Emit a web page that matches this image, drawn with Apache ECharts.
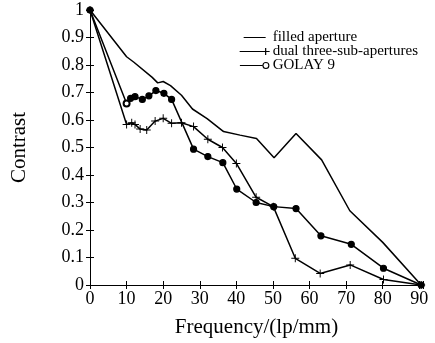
<!DOCTYPE html>
<html><head><meta charset="utf-8">
<script src="https://cdn.jsdelivr.net/npm/echarts@6/dist/echarts.min.js"></script>
<style>html,body{margin:0;padding:0;background:#fff}#c{width:435px;height:343px}</style>
</head><body><div id="c"></div>
<script>
const seriesNames = ['filled aperture', 'dual three-sub-apertures', 'GOLAY 9'];
const filledData = [[0,1],[10,0.83],[12,0.81],[17,0.755],[18.5,0.735],[20,0.74],[22,0.725],[25,0.69],[28,0.64],[32,0.605],[36.5,0.558],[41,0.545],[45.5,0.533],[50.3,0.463],[56.3,0.551],[63.3,0.455],[71,0.27],[80,0.155],[90.5,0]];
const dualData = [[0,1],[10,0.584],[11.4,0.59],[12.3,0.584],[13.7,0.567],[15.5,0.564],[17.8,0.596],[20,0.606],[22.3,0.588],[25,0.59],[28.3,0.576],[32.2,0.53],[36.2,0.5],[40,0.442],[45.4,0.319],[50.1,0.285],[56.1,0.097],[62.9,0.042],[71.1,0.073],[80.2,0.02],[90.5,0]];
const golayData = [[0,1],[10,0.66],[11.1,0.679],[12.3,0.685],[14.3,0.675],[16.1,0.688],[18,0.707],[20.2,0.697],[22.3,0.675],[28.3,0.494],[32.2,0.467],[36.3,0.445],[40.1,0.349],[45.4,0.3],[50.2,0.285],[56.3,0.278],[63.1,0.179],[71.4,0.148],[80.2,0.061],[90.5,0]];
const xMin = 0, xMax = 91, xStep = 10;
const yMin = 0, yMax = 1, yStep = 0.1;

const font = 'Liberation Serif';
const plusPath = 'path://M4.4,0H5.6V4.4H10V5.6H5.6V10H4.4V5.6H0V4.4H4.4Z';
// legend icons (30 x 7 box): line with marker at its right end
const iconLine = 'path://M0,0h0.01v0.01h-0.01Z M0,2.9H22V4.1H0Z M0,6.99h0.01v0.01h-0.01Z';
const iconPlus = 'path://M0,2.9H30V4.1H0Z M25.4,0H26.6V7H25.4Z';
const iconRing = 'path://M0,2.9H22.6V4.1H0Z M22.5,3.5A3.5,3.5 0 1,0 29.5,3.5A3.5,3.5 0 1,0 22.5,3.5Z M23.6,3.5A2.4,2.4 0 1,1 28.4,3.5A2.4,2.4 0 1,1 23.6,3.5Z';
const legendItemStyle = {color: '#000', borderWidth: 0, borderColor: 'transparent'};

const chart = echarts.init(document.getElementById('c'));
const axisCommon = {
  axisLine: {show: true, lineStyle: {color: '#000', width: 1}},
  axisTick: {show: true, inside: true, length: 4, lineStyle: {color: '#000'}},
  splitLine: {show: false}
};
chart.setOption({
  animation: false,
  backgroundColor: '#fff',
  textStyle: {fontFamily: font, color: '#000'},
  grid: {left: 90, right: 12, top: 10, bottom: 58, containLabel: false},
  legend: {
    orient: 'vertical', right: 12, top: 25, itemGap: -1, itemWidth: 30, itemHeight: 7,
    textStyle: {fontFamily: font, fontSize: 15, color: '#000', lineHeight: 14, padding: [0, 0, 0, -2]},
    data: [
      {name: seriesNames[0], icon: iconLine, itemStyle: legendItemStyle},
      {name: seriesNames[1], icon: iconPlus, itemStyle: legendItemStyle},
      {name: seriesNames[2], icon: iconRing, itemStyle: legendItemStyle}
    ]
  },
  xAxis: [
    Object.assign({type: 'value', min: xMin, max: xMax, interval: xStep, position: 'bottom',
      name: 'Frequency/(lp/mm)', nameLocation: 'middle', nameGap: 32,
      nameTextStyle: {fontFamily: font, fontSize: 21, color: '#000'},
      axisLabel: {fontFamily: font, fontSize: 18, color: '#000', margin: 5,
        formatter: v => (Math.abs(v % xStep) < 1e-9 ? String(v) : '')}}, axisCommon),
    Object.assign({type: 'value', min: xMin, max: xMax, interval: xStep, position: 'top',
      axisLabel: {show: false}}, axisCommon)
  ],
  yAxis: [
    Object.assign({type: 'value', min: yMin, max: yMax, interval: yStep, position: 'left',
      name: 'Contrast', nameLocation: 'middle', nameGap: 60,
      nameTextStyle: {fontFamily: font, fontSize: 21, color: '#000'},
      axisLabel: {fontFamily: font, fontSize: 18, color: '#000', margin: 6,
        formatter: v => String(Math.round(v * 10) / 10)}}, axisCommon),
    Object.assign({type: 'value', min: yMin, max: yMax, interval: yStep, position: 'right',
      axisLabel: {show: false}}, axisCommon)
  ],
  series: [
    {name: seriesNames[0], type: 'line', data: filledData, showSymbol: false, symbol: 'none',
      lineStyle: {color: '#000', width: 1.5}, itemStyle: {color: '#000'}},
    {name: seriesNames[1], type: 'line', data: dualData, symbol: plusPath, symbolSize: 8,
      lineStyle: {color: '#000', width: 1.5}, itemStyle: {color: '#000'}},
    {name: seriesNames[2], type: 'line', symbol: 'emptyCircle', symbolSize: 6,
      data: golayData.map((p, i) => i === 1 ? {value: p} : {value: p, symbol: 'circle'}),
      lineStyle: {color: '#000', width: 1.5}, itemStyle: {color: '#000', borderColor: '#000', borderWidth: 1.2}}
  ]
});
</script></body></html>
